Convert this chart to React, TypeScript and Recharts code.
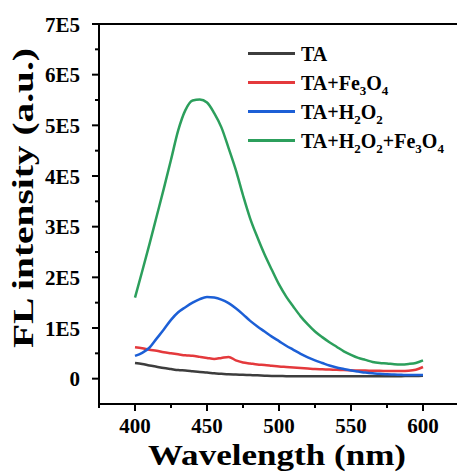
import { LineChart, Line, XAxis, YAxis, ReferenceLine } from 'recharts';

// emission spectra, 5 nm steps
const wavelengths = [
  400, 405, 410, 415, 420, 425, 430, 435, 440, 445, 450, 455, 460, 465, 470, 475, 480, 485, 490, 495,
  500, 505, 510, 515, 520, 525, 530, 535, 540, 545, 550, 555, 560, 565, 570, 575, 580, 585, 590, 595, 600,
];
const taValues = [
  31000, 29000, 26000, 23500, 21000, 19000, 17000, 16000, 14500, 13000, 12000, 10500, 9500, 8500, 8000, 7500, 7000, 6500, 6000, 5500,
  5500, 5000, 5000, 5000, 5000, 5000, 5000, 5000, 5000, 5000, 5000, 5000, 5000, 5000, 5000, 5000, 5000, 5000, 5500, 5500, 6000,
];
const taFeValues = [
  62000, 60000, 57000, 55000, 52000, 50000, 48000, 46000, 45000, 43000, 41000, 39000, 41000, 43000, 36000, 32000, 30000, 28000, 27000, 25500,
  24000, 23000, 22000, 21000, 20000, 19000, 18500, 18000, 17500, 17000, 16500, 16000, 16000, 15500, 15500, 15000, 15000, 15000, 15500, 17500, 23000,
];
const taH2o2Values = [
  45000, 51000, 61000, 79000, 97000, 116000, 131000, 141000, 150000, 157000, 161000, 160000, 156000, 149000, 139000, 127000, 114000, 103000, 93000, 83000,
  74000, 65000, 57000, 49000, 42000, 36000, 31000, 26000, 22000, 19000, 16000, 14000, 12000, 10500, 9500, 8500, 8000, 7500, 7000, 7000, 7000,
];
const taH2o2FeValues = [
  160000, 212000, 265000, 320000, 375000, 432000, 490000, 530000, 549000, 551000, 545000, 524000, 496000, 455000, 412000, 362000, 316000, 279000, 245000, 215000,
  186000, 162000, 142000, 123000, 107000, 93000, 82000, 72000, 63000, 54000, 47000, 41000, 37000, 33000, 31000, 30000, 28500, 28000, 29000, 31000, 36000,
];

const xTicks = [375, 400, 425, 450, 475, 500, 525, 550, 575, 600, 625];
const yTicks = [0, 50000, 100000, 150000, 200000, 250000, 300000, 350000, 400000, 450000, 500000, 550000, 600000, 650000, 700000];

const series = [
  { key: 'ta', color: '#3d3d3d', parts: [['TA', '']] },
  { key: 'taFe', color: '#e4393c', parts: [['TA+Fe', '3'], ['O', '4']] },
  { key: 'taH2o2', color: '#1c5fd6', parts: [['TA+H', '2'], ['O', '2']] },
  { key: 'taH2o2Fe', color: '#2c9f5c', parts: [['TA+H', '2'], ['O', '2'], ['+Fe', '3'], ['O', '4']] },
];

const data = wavelengths.map((wl, i) => ({
  wl,
  ta: taValues[i],
  taFe: taFeValues[i],
  taH2o2: taH2o2Values[i],
  taH2o2Fe: taH2o2FeValues[i],
}));

const FONT = '"Liberation Serif", "Times New Roman", serif';

function YTick(props: any) {
  const { x, y, payload } = props;
  const major = payload.value % 100000 === 0;
  const label = payload.value === 0 ? '0' : `${payload.value / 100000}E5`;
  return (
    <g>
      <line x1={x - (major ? 7 : 4)} x2={x} y1={y} y2={y} stroke="#000" strokeWidth={2} />
      {major && (
        <text x={x - 19} y={y} dy="0.36em" textAnchor="end" fontFamily={FONT} fontWeight="bold" fontSize={21} fill="#000">
          {label}
        </text>
      )}
    </g>
  );
}

function XTick(props: any) {
  const { x, y, payload } = props;
  const major = payload.value % 50 === 0;
  return (
    <g>
      <line x1={x} x2={x} y1={y} y2={y + (major ? 7 : 4)} stroke="#000" strokeWidth={2} />
      {major && (
        <text x={x} y={y + 29} textAnchor="middle" fontFamily={FONT} fontWeight="bold" fontSize={21} fill="#000">
          {payload.value}
        </text>
      )}
    </g>
  );
}

function LegendBox() {
  return (
    <div style={{ position: 'absolute', left: 248, top: 39, fontFamily: FONT, fontWeight: 'bold', fontSize: 20, color: '#000' }}>
      {series.map((s) => (
        <div key={s.key} style={{ display: 'flex', alignItems: 'center', height: 29 }}>
          <div style={{ width: 47, height: 3, background: s.color, marginRight: 6 }} />
          <span style={{ whiteSpace: 'nowrap', lineHeight: '20px' }}>
            {s.parts.map(([txt, sub], i) => (
              <span key={i}>
                {txt}
                {sub && <sub style={{ fontSize: 13, verticalAlign: -5, lineHeight: 0 }}>{sub}</sub>}
              </span>
            ))}
          </span>
        </div>
      ))}
    </div>
  );
}

export default function App() {
  return (
    <div style={{ position: 'absolute', left: 0, top: 0, width: 457, height: 475, overflow: 'hidden', background: '#fff' }}>
      <LineChart width={470} height={475} data={data} margin={{ top: 24, right: 11, bottom: 0, left: 0 }}>
        <XAxis
          dataKey="wl"
          type="number"
          domain={[375, 625]}
          ticks={xTicks}
          tickSize={0}
          tickMargin={0}
          height={71}
          axisLine={{ stroke: '#000', strokeWidth: 2 }}
          tick={(p: any) => <XTick {...p} />}
          label={() => (
            <text x={277} y={465} textAnchor="middle" fontFamily={FONT} fontWeight="bold" fontSize={30} textLength={258} lengthAdjust="spacingAndGlyphs" fill="#000">
              Wavelength (nm)
            </text>
          )}
        />
        <YAxis
          type="number"
          domain={[-50000, 700000]}
          ticks={yTicks}
          tickSize={0}
          tickMargin={0}
          width={99}
          allowDataOverflow
          axisLine={{ stroke: '#000', strokeWidth: 2 }}
          tick={(p: any) => <YTick {...p} />}
          label={() => (
            <text x={33} y={198} transform="rotate(-90 33 198)" textAnchor="middle" fontFamily={FONT} fontWeight="bold" fontSize={30} textLength={300} lengthAdjust="spacingAndGlyphs" fill="#000">
              FL intensity (a.u.)
            </text>
          )}
        />
        <ReferenceLine y={700000} stroke="#000" strokeWidth={2} />
        <ReferenceLine x={625} stroke="#000" strokeWidth={2} />
        {series.map((s) => (
          <Line key={s.key} type="monotone" dataKey={s.key} stroke={s.color} strokeWidth={2.5} dot={false} isAnimationActive={false} />
        ))}
      </LineChart>
      <LegendBox />
    </div>
  );
}
